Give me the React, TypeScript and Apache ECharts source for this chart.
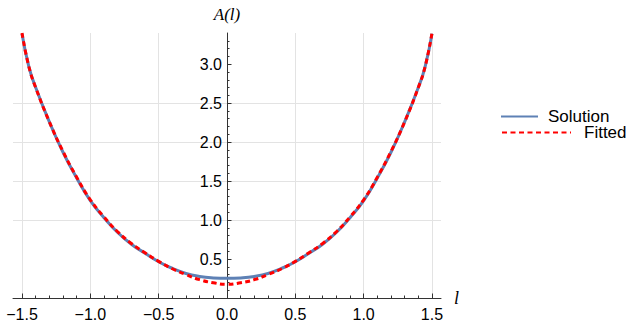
import React, { useEffect, useRef } from "react";
import * as echarts from "echarts";

// l values and read-off curve values
const lValues = [
  -1.5, -1.45, -1.4, -1.3, -1.2, -1.1, -1.0, -0.9, -0.8, -0.7, -0.6, -0.5, -0.4, -0.3, -0.2, -0.1,
  0,
  0.1, 0.2, 0.3, 0.4, 0.5, 0.6, 0.7, 0.8, 0.9, 1.0, 1.1, 1.2, 1.3, 1.4, 1.45, 1.5,
];
const solutionValues = [
  3.39, 2.97, 2.7, 2.26, 1.87, 1.54, 1.25, 1.03, 0.84, 0.69, 0.575, 0.465, 0.38, 0.315, 0.277, 0.258,
  0.252,
  0.258, 0.277, 0.315, 0.38, 0.465, 0.575, 0.69, 0.84, 1.03, 1.25, 1.54, 1.87, 2.26, 2.7, 2.97, 3.39,
];
const fittedValues = [
  3.4, 2.97, 2.7, 2.26, 1.88, 1.55, 1.26, 1.04, 0.85, 0.7, 0.58, 0.47, 0.375, 0.3, 0.235, 0.195,
  0.175,
  0.195, 0.235, 0.3, 0.375, 0.47, 0.58, 0.7, 0.85, 1.04, 1.26, 1.55, 1.88, 2.26, 2.7, 2.97, 3.4,
];

const xMajorTicks = [-1.5, -1.0, -0.5, 0.0, 0.5, 1.0, 1.5];
const xMinorTicks = [
  -1.5, -1.4, -1.3, -1.2, -1.1, -1.0, -0.9, -0.8, -0.7, -0.6, -0.5, -0.4, -0.3, -0.2, -0.1, 0,
  0.1, 0.2, 0.3, 0.4, 0.5, 0.6, 0.7, 0.8, 0.9, 1.0, 1.1, 1.2, 1.3, 1.4, 1.5,
];
const yMajorTicks = [0.5, 1.0, 1.5, 2.0, 2.5, 3.0];
const yMinorTicks = [
  0.1, 0.2, 0.3, 0.4, 0.5, 0.6, 0.7, 0.8, 0.9, 1.0, 1.1, 1.2, 1.3, 1.4, 1.5, 1.6, 1.7, 1.8, 1.9, 2.0,
  2.1, 2.2, 2.3, 2.4, 2.5, 2.6, 2.7, 2.8, 2.9, 3.0, 3.1, 3.2, 3.3,
];

const X_MIN = -1.566;
const X_MAX = 1.566;
const Y_MIN = 0;
const Y_MAX = 3.4;

const GRID_LEFT = 13;
const GRID_RIGHT = 193;
const CHART_W = 634;
const GRID_W = CHART_W - GRID_LEFT - GRID_RIGHT;
// y axis crosses at l = 0: shift it from the grid's left edge
const Y_AXIS_OFFSET = -((0 - X_MIN) / (X_MAX - X_MIN)) * GRID_W;

const SANS = "'Liberation Sans', Arial, sans-serif";
const SERIF = "'Liberation Serif', 'Times New Roman', serif";
const AXIS_COLOR = "#333333";
const GRID_COLOR = "#e3e3e3";
const TICK_FONT = 16;

export default function App() {
  const ref = useRef<HTMLDivElement>(null);

  useEffect(() => {
    document.body.style.margin = "0";
    if (!ref.current) return;
    const chart = echarts.init(ref.current, null, { renderer: "svg" });

    const fmt = (v: number) => {
      const s = Math.abs(v).toFixed(1);
      return v < -1e-9 ? "\u2212" + s : s;
    };

    const legendBase = {
      padding: 0,
      itemHeight: 14,
      selectedMode: false,
      itemStyle: { opacity: 0 },
    };

    chart.setOption({
      animation: false,
      backgroundColor: "#ffffff",
      grid: {
        left: GRID_LEFT,
        right: GRID_RIGHT,
        top: 33,
        bottom: 31,
        containLabel: false,
        outerBoundsMode: "none",
      },
      legend: [
        {
          ...legendBase,
          data: ["Solution"],
          left: 500,
          top: 108,
          itemWidth: 37,
          textStyle: { fontFamily: SANS, fontSize: 17, color: "#000", padding: [0, 0, 0, 5] },
        },
        {
          ...legendBase,
          data: ["Fitted"],
          left: 501,
          top: 124,
          itemWidth: 69,
          textStyle: { fontFamily: SANS, fontSize: 17, color: "#000", padding: [0, 0, 0, 8] },
        },
      ],
      xAxis: [
        {
          type: "value",
          min: X_MIN,
          max: X_MAX,
          position: "bottom",
          name: "l",
          nameLocation: "end",
          nameGap: 13,
          nameTextStyle: {
            fontFamily: SERIF,
            fontStyle: "italic",
            fontSize: 18,
            color: "#000",
          },
          axisLine: { show: true, onZero: false, lineStyle: { color: AXIS_COLOR, width: 1 } },
          axisTick: {
            show: true,
            inside: true,
            length: 4.5,
            customValues: xMajorTicks,
            lineStyle: { color: AXIS_COLOR, width: 1 },
          },
          axisLabel: {
            show: true,
            customValues: xMajorTicks,
            formatter: fmt,
            margin: 8,
            fontFamily: SANS,
            fontSize: TICK_FONT,
            color: "#000",
          },
          splitLine: { show: true, lineStyle: { color: GRID_COLOR, width: 1 } },
        },
        {
          type: "value",
          min: X_MIN,
          max: X_MAX,
          position: "bottom",
          axisLine: { show: false, onZero: false },
          axisTick: {
            show: true,
            inside: true,
            length: 2.5,
            customValues: xMinorTicks,
            lineStyle: { color: AXIS_COLOR, width: 1 },
          },
          axisLabel: { show: false },
          splitLine: { show: false },
        },
      ],
      yAxis: [
        {
          type: "value",
          min: Y_MIN,
          max: Y_MAX,
          position: "left",
          offset: Y_AXIS_OFFSET,
          name: "A(l)",
          nameLocation: "end",
          nameGap: 10,
          nameTextStyle: {
            fontFamily: SERIF,
            fontStyle: "italic",
            fontSize: 17,
            color: "#000",
          },
          axisLine: { show: true, onZero: false, lineStyle: { color: AXIS_COLOR, width: 1 } },
          axisTick: {
            show: true,
            inside: true,
            length: 4.5,
            customValues: yMajorTicks,
            lineStyle: { color: AXIS_COLOR, width: 1 },
          },
          axisLabel: {
            show: true,
            customValues: yMajorTicks,
            formatter: fmt,
            margin: 5,
            fontFamily: SANS,
            fontSize: TICK_FONT,
            color: "#000",
          },
          splitLine: {
            show: true,
            showMinLine: false,
            showMaxLine: false,
            lineStyle: { color: GRID_COLOR, width: 1 },
          },
        },
        {
          type: "value",
          min: Y_MIN,
          max: Y_MAX,
          position: "left",
          offset: Y_AXIS_OFFSET,
          axisLine: { show: false, onZero: false },
          axisTick: {
            show: true,
            inside: true,
            length: 2.5,
            customValues: yMinorTicks,
            lineStyle: { color: AXIS_COLOR, width: 1 },
          },
          axisLabel: { show: false },
          splitLine: { show: false },
        },
      ],
      series: [
        {
          name: "Solution",
          type: "line",
          xAxisIndex: 0,
          yAxisIndex: 0,
          data: lValues.map((l, i) => [l, solutionValues[i]]),
          showSymbol: false,
          symbol: "none",
          smooth: 0.5,
          color: "#5E81B5",
          lineStyle: { color: "#5E81B5", width: 3 },
          z: 3,
        },
        {
          name: "Fitted",
          type: "line",
          xAxisIndex: 0,
          yAxisIndex: 0,
          data: lValues.map((l, i) => [l, fittedValues[i]]),
          showSymbol: false,
          symbol: "none",
          smooth: 0.5,
          color: "#FF0000",
          lineStyle: { color: "#FF0000", width: 3, type: [5, 3.5], cap: "butt" },
          z: 4,
        },
      ],
    });

    return () => {
      chart.dispose();
    };
  }, []);

  return <div ref={ref} style={{ width: 634, height: 329 }} />;
}
